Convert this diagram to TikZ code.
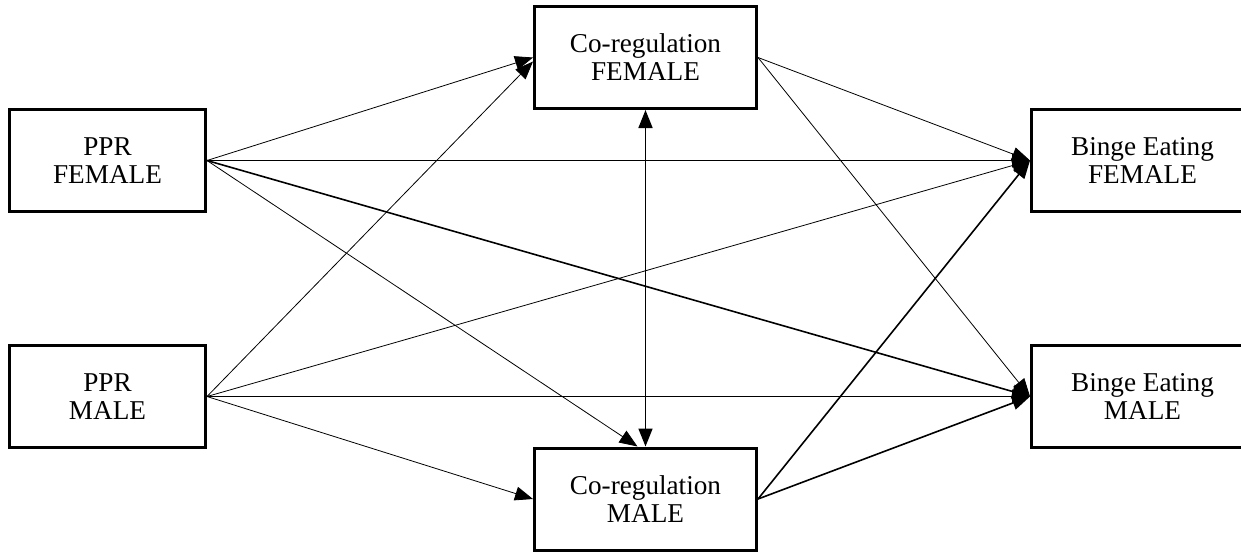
\documentclass[tikz,border=0pt]{standalone}
\usepackage{fontspec}
\setmainfont{Liberation Serif}
\usetikzlibrary{arrows.meta}

\begin{document}
\begin{tikzpicture}[x=0.5pt, y=-0.5pt,
    box/.style={draw, line width=1.5pt, align=center, inner sep=0pt,
        minimum height=51pt, font=\fontsize{13.6}{14}\selectfont},
    link/.style={line width=0.4pt, -{Triangle[length=9pt,width=7pt]}},
    strong/.style={link, line width=0.8pt}]

    % Fix the size of the page (the outcome boxes run past the right edge)
    \useasboundingbox (0,0) rectangle (1241,553);

    % Predictors on the left
    \node[box, minimum width=98pt] (pprF) at (107.5,160.5) {PPR\\FEMALE};
    \node[box, minimum width=98pt] (pprM) at (107.5,396.5) {PPR\\MALE};

    % Mediators in the middle
    \node[box, minimum width=111pt] (coF) at (645.5,57.5) {Co-regulation\\FEMALE};
    \node[box, minimum width=111pt] (coM) at (645.5,499) {Co-regulation\\MALE};

    % Outcomes on the right
    \node[box, minimum width=111pt] (beF) at (1142.5,160.5) {Binge Eating\\FEMALE};
    \node[box, minimum width=111pt] (beM) at (1142.5,396.5) {Binge Eating\\MALE};

    % Paths from PPR FEMALE
    \draw[link] (pprF.east) -- (coF.west);
    \draw[link, line width=0.5pt] (pprF.east) -- (beF.west);
    \draw[strong] (pprF.east) -- (beM.west);
    \draw[link] (pprF.east) -- ([xshift=-4pt]coM.north);

    % Paths from PPR MALE
    \draw[link] (pprM.east) -- ([yshift=-2pt]coF.west);
    \draw[link] (pprM.east) -- (beF.west);
    \draw[link, line width=0.5pt] (pprM.east) -- (beM.west);
    \draw[link] (pprM.east) -- (coM.west);

    % Paths from the mediators
    \draw[link] (coF.east) -- (beF.west);
    \draw[link] (coF.east) -- (beM.west);
    \draw[strong] (coM.east) -- (beF.west);
    \draw[strong] (coM.east) -- (beM.west);

    % Covariance between the mediators
    \draw[strong, {Triangle[length=9pt,width=7pt]}-{Triangle[length=9pt,width=7pt]}]
        (coF.south) -- (coM.north);

\end{tikzpicture}
\end{document}
